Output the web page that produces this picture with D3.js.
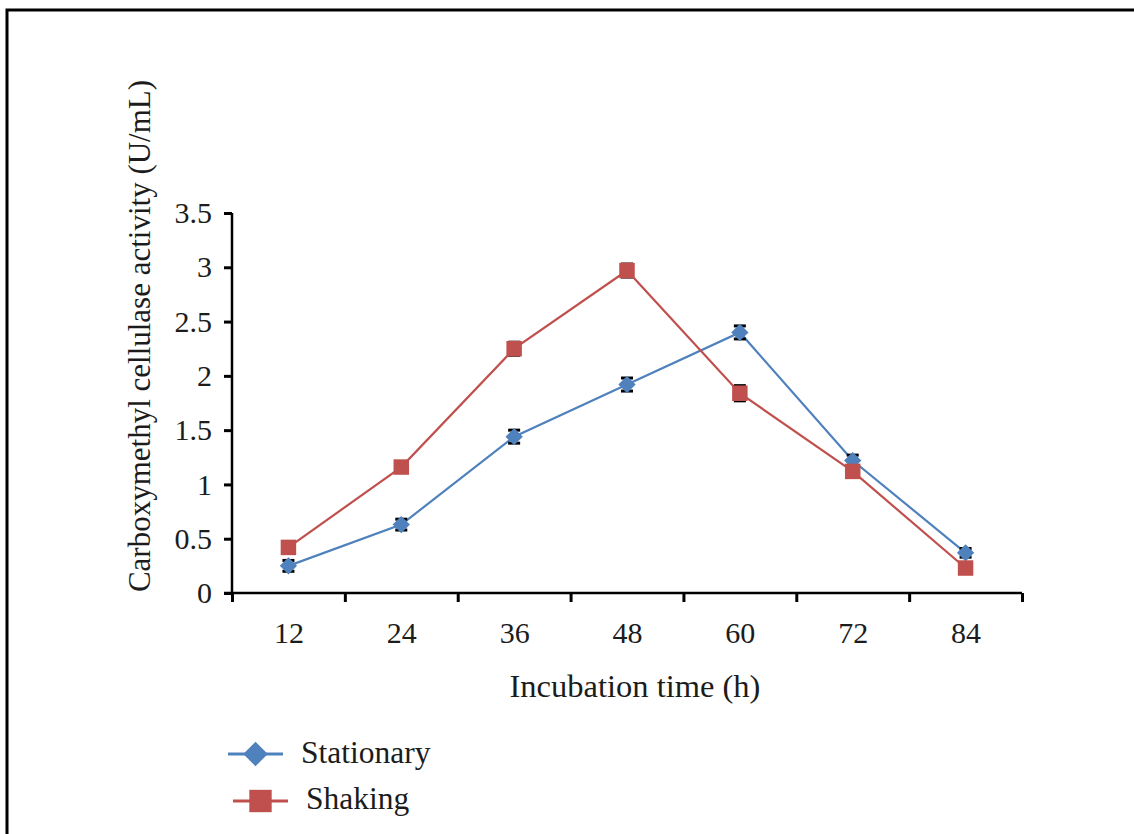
<!DOCTYPE html>
<html lang="en">
<head>
    <meta charset="UTF-8">
    <title>CMCase activity</title>
    <style>
        body { margin: 0; background: #fff; }
        text { font-family: "Liberation Serif", "DejaVu Serif", serif; fill: #1c1c1c; }
    </style>
</head>
<body>
<script src='https://d3js.org/d3.v7.min.js'></script>
<script>
    // Data
    const hours = [12, 24, 36, 48, 60, 72, 84];
    const stationary = [0.25, 0.63, 1.44, 1.92, 2.40, 1.22, 0.37];
    const shaking = [0.42, 1.16, 2.25, 2.97, 1.84, 1.12, 0.23];
    const stationaryErr = [0.05, 0.05, 0.06, 0.06, 0.06, 0.05, 0.04];
    const shakingErr = [0.04, 0.05, 0.06, 0.06, 0.07, 0.05, 0.04];
    const yTicks = [0, 0.5, 1, 1.5, 2, 2.5, 3, 3.5];
    const xBounds = [6, 18, 30, 42, 54, 66, 78, 90];

    // Dimensions
    const width = 1134;
    const height = 834;
    const plotLeft = 232, plotRight = 1022, plotTop = 213, plotBottom = 593;

    const svg = d3.select("body")
        .append("svg")
        .attr("width", width)
        .attr("height", height);

    // frame (left and top edges only)
    svg.append("path")
        .attr("d", "M7,834 V10 H1134")
        .attr("fill", "none")
        .attr("stroke", "#000")
        .attr("stroke-width", 3);

    const x = d3.scaleLinear().domain([6, 90]).range([plotLeft, plotRight]);
    const y = d3.scaleLinear().domain([0, 3.5]).range([plotBottom, plotTop]);

    // Y axis
    const yAxis = svg.append("g")
        .attr("transform", `translate(${plotLeft},0)`)
        .call(d3.axisLeft(y).tickValues(yTicks).tickSize(8).tickPadding(12).tickFormat(d => d));
    yAxis.select(".domain").attr("stroke-width", 2.5).attr("d", `M0,${plotTop}V${plotBottom}`);
    yAxis.selectAll(".tick line").attr("stroke-width", 3);
    yAxis.selectAll("text").style("font-size", "30px").attr("fill", "#1c1c1c");

    // X axis (ticks on band boundaries)
    const xAxis = svg.append("g")
        .attr("transform", `translate(0,${plotBottom})`)
        .call(d3.axisBottom(x).tickValues(xBounds).tickSize(9).tickFormat(""));
    xAxis.select(".domain").attr("stroke-width", 2.5).attr("d", `M${plotLeft - 8},0H${plotRight}`);
    xAxis.selectAll(".tick line").attr("stroke-width", 3);

    // X labels at band centres
    const xLab = svg.append("g")
        .attr("transform", `translate(0,${plotBottom})`)
        .call(d3.axisBottom(x).tickValues(hours).tickSize(0).tickPadding(29));
    xLab.select(".domain").remove();
    xLab.selectAll("text").style("font-size", "30px").attr("fill", "#1c1c1c");

    // Axis titles
    svg.append("text")
        .attr("x", 635)
        .attr("y", 697)
        .attr("text-anchor", "middle")
        .style("font-size", "32.5px")
        .text("Incubation time (h)");

    svg.append("text")
        .attr("transform", "translate(150,336) rotate(-90)")
        .attr("text-anchor", "middle")
        .style("font-size", "31px")
        .text("Carboxymethyl cellulase activity (U/mL)");

    const line = d3.line()
        .x((d, i) => x(hours[i]))
        .y(d => y(d));

    // diamond = square turned 45 degrees
    function marker(kind) {
        return kind === "diamond" ? " rotate(45)" : "";
    }

    function drawSeries(values, errs, color, kind, size) {
        svg.append("path")
            .datum(values)
            .attr("fill", "none")
            .attr("stroke", color)
            .attr("stroke-width", 2.2)
            .attr("d", line);

        // error bar caps
        const eb = svg.append("g");
        values.forEach((v, i) => {
            const cx = x(hours[i]);
            [v - errs[i], v + errs[i]].forEach(e => {
                eb.append("line")
                    .attr("x1", cx - 6).attr("x2", cx + 6)
                    .attr("y1", y(e)).attr("y2", y(e))
                    .attr("stroke", "#000")
                    .attr("stroke-width", 3);
            });
        });

        svg.append("g").selectAll("path")
            .data(values)
            .enter()
            .append("path")
            .attr("transform", (d, i) => `translate(${x(hours[i])},${y(d)})` + marker(kind))
            .attr("d", d3.symbol().type(d3.symbolSquare).size(size))
            .attr("fill", color);
    }

    drawSeries(stationary, stationaryErr, "#4f81bd", "diamond", 150);
    drawSeries(shaking, shakingErr, "#c0504d", "square", 240);

    // Legend
    const legend = [
        {name: "Stationary", color: "#4f81bd", kind: "diamond", size: 300, x0: 228, x1: 283, y: 754, tx: 301, ty: 763},
        {name: "Shaking", color: "#c0504d", kind: "square", size: 500, x0: 233, x1: 288, y: 801, tx: 306, ty: 809}
    ];
    const lg = svg.append("g");
    legend.forEach(d => {
        lg.append("line")
            .attr("x1", d.x0).attr("x2", d.x1)
            .attr("y1", d.y).attr("y2", d.y)
            .attr("stroke", d.color)
            .attr("stroke-width", 3);
        lg.append("path")
            .attr("transform", `translate(${(d.x0 + d.x1) / 2},${d.y})` + marker(d.kind))
            .attr("d", d3.symbol().type(d3.symbolSquare).size(d.size))
            .attr("fill", d.color);
        lg.append("text")
            .attr("x", d.tx)
            .attr("y", d.ty)
            .style("font-size", "31.5px")
            .text(d.name);
    });
</script>
</body>
</html>
